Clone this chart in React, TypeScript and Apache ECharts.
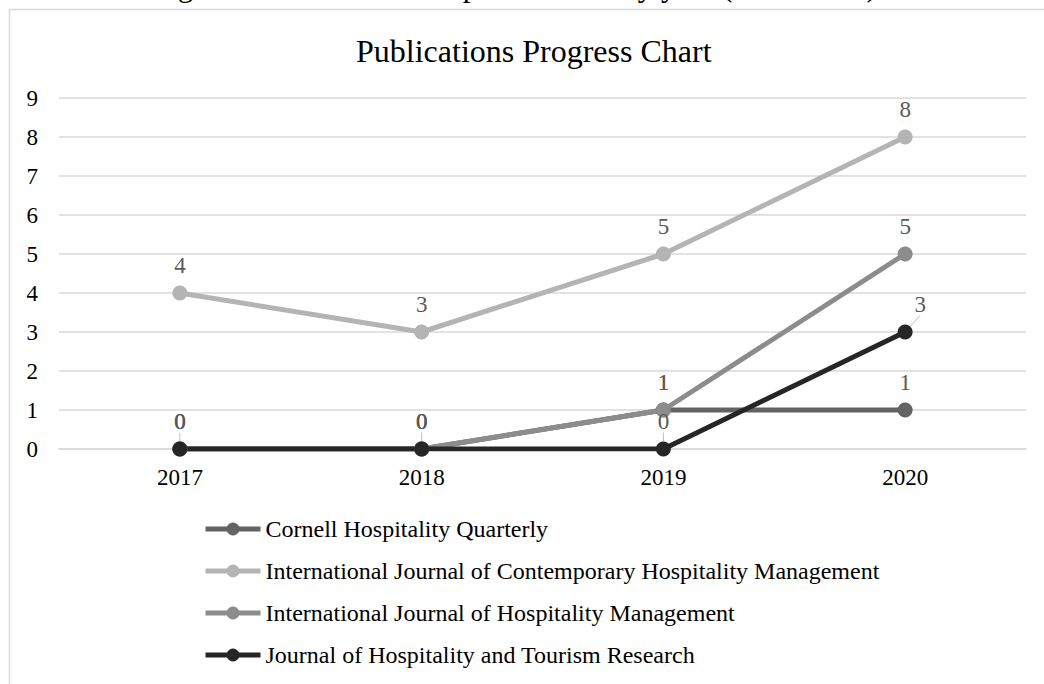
import React, { useEffect, useRef } from "react";
import * as echarts from "echarts";

const years = ["2017", "2018", "2019", "2020"];
const seriesNames = [
  "Cornell Hospitality Quarterly",
  "International Journal of Contemporary Hospitality Management",
  "International Journal of Hospitality Management",
  "Journal of Hospitality and Tourism Research",
];
const cornell = [0, 0, 1, 1];
const ijchm = [4, 3, 5, 8];
const ijhm = [0, 0, 1, 5];
const jhtr = [0, 0, 0, 3];
const seriesColors = ["#636363", "#b4b4b4", "#8c8c8c", "#262626"];
const yTicks = [0, 1, 2, 3, 4, 5, 6, 7, 8, 9];

const FONT = "'Liberation Serif', 'Times New Roman', serif";

export default function App() {
  const ref = useRef<HTMLDivElement>(null);
  useEffect(() => {
    if (!ref.current) return;
    const chart = echarts.init(ref.current, undefined, { renderer: "svg" });
    const allData = [cornell, ijchm, ijhm, jhtr];
    const series = allData.map((d, i) => ({
      name: seriesNames[i],
      type: "line",
      data: d,
      symbol: "circle",
      symbolSize: 15,
      color: seriesColors[i],
      lineStyle: { width: 5, color: seriesColors[i] },
      itemStyle: { color: seriesColors[i] },
      label: {
        show: true,
        position: "top",
        distance: 9,
        color: "#595959",
        fontFamily: FONT,
        fontSize: 23,
      },
      labelLine: { show: true, lineStyle: { color: "#bfbfbf", width: 1 } },
      labelLayout:
        i === 3
          ? (p: any) => (p.dataIndex === 3 ? { dx: 15, dy: 0 } : {})
          : undefined,
      emphasis: { disabled: true },
    }));
    chart.setOption({
      animation: false,
      backgroundColor: "#ffffff",
      title: {
        text: "Publications Progress Chart",
        left: 351,
        top: 30,
        textStyle: {
          fontFamily: FONT,
          fontSize: 32,
          fontWeight: "normal",
          color: "#000000",
        },
      },
      graphic: [
        {
          type: "rect",
          shape: { x: 9.5, y: 9.5, width: 1100, height: 700 },
          style: { fill: "none", stroke: "#d9d9d9", lineWidth: 1.5 },
          silent: true,
        },
        {
          type: "text",
          left: 152,
          top: -30,
          style: {
            text: "Figure 3. Distribution of publications by year (2017-2020)",
            font: "31px 'Liberation Serif', serif",
            fill: "#000000",
          },
          silent: true,
        },
      ],
      legend: {
        orient: "vertical",
        left: 198,
        top: 512,
        itemWidth: 55,
        itemHeight: 16,
        itemGap: 18,
        lineStyle: { width: 5 },
        textStyle: { fontFamily: FONT, fontSize: 24, color: "#000000" },
        data: seriesNames,
      },
      grid: { left: 59, right: 18, top: 98, bottom: 235, containLabel: false },
      xAxis: {
        type: "category",
        data: years,
        boundaryGap: true,
        axisLine: { show: true, lineStyle: { color: "#d9d9d9", width: 1.5 } },
        axisTick: { show: false },
        axisLabel: {
          color: "#000000",
          fontFamily: FONT,
          fontSize: 23,
          margin: 17,
        },
      },
      yAxis: {
        type: "value",
        min: yTicks[0],
        max: yTicks[yTicks.length - 1],
        interval: 1,
        axisLine: { show: false },
        axisTick: { show: false },
        splitLine: { lineStyle: { color: "#d9d9d9", width: 1.5 } },
        axisLabel: {
          color: "#000000",
          fontFamily: FONT,
          fontSize: 23,
          margin: 21,
        },
      },
      series,
    });
    return () => chart.dispose();
  }, []);
  return (
    <div
      ref={ref}
      style={{ position: "fixed", left: 0, top: 0, width: 1044, height: 684 }}
    />
  );
}
